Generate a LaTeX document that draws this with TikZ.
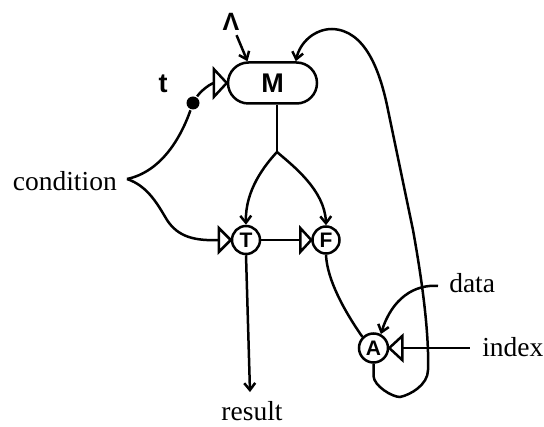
\documentclass[tikz,border=0pt]{standalone}
\usepackage{fontspec}
\setmainfont{Liberation Serif}
\newfontfamily\hand{Liberation Sans}
\usetikzlibrary{arrows.meta,shapes.misc,calc}
\begin{document}
\begin{tikzpicture}[x=1pt,y=-1pt, line width=2.5pt,
  arr/.style={-{Straight Barb[length=7pt,width=11pt]}},
  lbl/.style={font=\fontsize{27.5}{30}\selectfont, inner sep=0pt},
  circ/.style={draw, circle, minimum size=28pt, inner sep=0pt, font=\hand\bfseries\fontsize{21}{22}\selectfont},
  tri/.style={draw, fill=white, line join=miter}
]
\useasboundingbox (0,0) rectangle (544,427);

% nodes
\node[draw, rounded rectangle, minimum width=89pt, minimum height=41pt, inner sep=0pt,
      font=\hand\bfseries\fontsize{27}{28}\selectfont] (M) at (272.5,83) {M};
\node[circ] (T) at (246,240) {T};
\node[circ, minimum size=27pt] (F) at (326,240) {F};
\node[circ, minimum size=29pt] (A) at (373.5,348) {A};
\node[circle, fill, inner sep=0pt, minimum size=13pt] (dot) at (193,103) {};

% labels
\node[font=\hand\bfseries\fontsize{25}{26}\selectfont] (lam) at (231,22) {Λ};
\node[font=\hand\bfseries\fontsize{27}{28}\selectfont] (t) at (163,84) {t};
\node[lbl, anchor=east] (cond) at (118,181) {condition};
\node[lbl, anchor=west] (data) at (448,283) {data};
\node[lbl, anchor=west] (index) at (481,347) {index};
\node[lbl] (result) at (252,411) {result};

% input triangles
\draw[tri] (M.west) -- ++(-13,-14) -- ++(0,28) -- cycle;
\coordinate (Min) at ($(M.west)+(-13,0)$);
\draw[tri] (T.west) -- ++(-12,-12) -- ++(0,24) -- cycle;
\coordinate (Tin) at ($(T.west)+(-12,0)$);
\draw[tri] (F.west) -- ++(-11,-12) -- ++(0,24) -- cycle;
\coordinate (Fin) at ($(F.west)+(-11,0)$);
\draw[tri] (A.east) -- ++(13,-12) -- ++(0,24) -- cycle;
\coordinate (Ain) at ($(A.east)+(13,0)$);

% connectors
\draw[arr] (lam) -- (M.139);

\coordinate (cnd) at (127,179);
\draw (cnd) .. controls (160,172) and (180,140) .. (dot);
\draw (dot) .. controls (200,92) and (208,85) .. (Min);
\draw (cnd) .. controls (148,186) and (158,205) .. (167,220)
            .. controls (178,237) and (195,241) .. (Tin);

\coordinate (split) at (277,152);
\draw (M.south -| split) -- (split);
\draw[arr] (split) .. controls (265,165) and (245,190) .. (T.north);
\draw[arr] (split) .. controls (292,165) and (325,190) .. (F.north);

\draw (T.east) -- (Fin);
\draw[arr] (T.south) -- ($(result.north)+(-2,-8)$);

\draw (F.south) .. controls (327,280) and (345,312) .. (A.135);
\draw[arr] ($(data.west)+(-10,3)$) .. controls (415,284) and (392,298) .. (A.62);
\draw (Ain) -- ($(Ain -| index.west)+(-11,0)$);

\draw[arr] (A.south) -- (373.5,376) .. controls (374,386) and (392,397) .. (400,397)
   .. controls (410,395) and (428,385) .. (428,370) -- (428,352)
   .. controls (427,320) and (422,280) .. (413,230) -- (388,110)
   .. controls (380,70) and (365,30) .. (332,29)
   .. controls (315,29) and (300,42) .. (M.43);
\end{tikzpicture}
\end{document}
